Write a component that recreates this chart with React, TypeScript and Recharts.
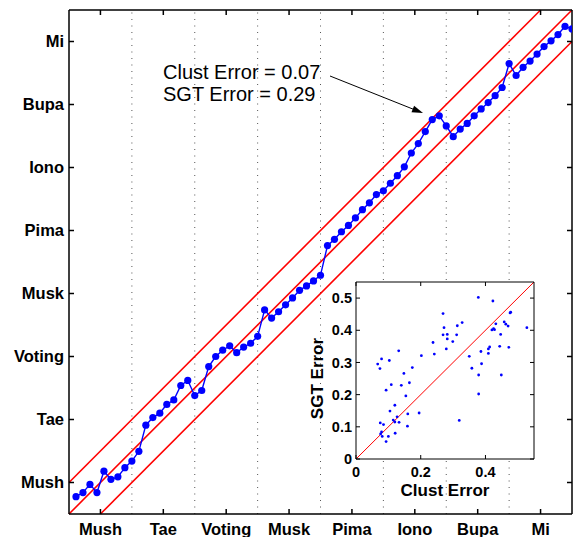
import React from 'react';
import {
  ComposedChart,
  Line,
  XAxis,
  YAxis,
  ReferenceLine,
  ScatterChart,
  Scatter,
  CartesianGrid,
  Label,
} from 'recharts';

const FONT = 'Liberation Sans, Arial, Helvetica, sans-serif';

// ---- main panel data ----
const datasetNames = ['Mush', 'Tae', 'Voting', 'Musk', 'Pima', 'Iono', 'Bupa', 'Mi'];
const pointsPerDataset = 9;
const bandTicks = [4.5, 13.5, 22.5, 31.5, 40.5, 49.5, 58.5, 67.5];
const levelTicks = [0.5, 1.5, 2.5, 3.5, 4.5, 5.5, 6.5, 7.5];
const bandBoundaries = [9, 18, 27, 36, 45, 54, 63];
const sortedScores = [
  0.275, 0.34, 0.47, 0.34, 0.68, 0.55, 0.59, 0.735, 0.84,
  0.995, 1.41, 1.53, 1.6, 1.74, 1.81, 2.04, 2.12, 1.88,
  1.96, 2.34, 2.5, 2.6, 2.67, 2.56, 2.65, 2.71, 2.82,
  3.24, 3.11, 3.21, 3.32, 3.43, 3.55, 3.62, 3.7, 3.79,
  4.26, 4.36, 4.48, 4.58, 4.7, 4.83, 4.94, 5.07, 5.13,
  5.25, 5.37, 5.51, 5.73, 5.88, 6.07, 6.26, 6.32, 6.16,
  5.99, 6.11, 6.2, 6.32, 6.43, 6.53, 6.64, 6.77, 7.15,
  6.96, 7.09, 7.19, 7.3, 7.42, 7.51, 7.61, 7.74, 7.7,
];
const upperBand = [{ x: 0, y: 0.5 }, { x: 67.5, y: 8 }];
const diagonal = [{ x: 0, y: 0 }, { x: 72, y: 8 }];
const lowerBand = [{ x: 4.5, y: 0 }, { x: 72, y: 7.5 }];

// ---- inset data ----
const clustError = [
  0.378, 0.423, 0.269, 0.478, 0.476, 0.432, 0.328, 0.313, 0.272, 0.269,
  0.282, 0.311, 0.282, 0.299, 0.238, 0.458, 0.463, 0.47, 0.528, 0.428,
  0.42, 0.425, 0.447, 0.413, 0.409, 0.409, 0.444, 0.472, 0.386, 0.388,
  0.35, 0.358, 0.379, 0.449, 0.379, 0.319, 0.279, 0.242, 0.202, 0.132,
  0.079, 0.067, 0.074, 0.103, 0.148, 0.174, 0.165, 0.14, 0.109, 0.093,
  0.154, 0.12, 0.105, 0.195, 0.16, 0.127, 0.115, 0.12, 0.133, 0.075,
  0.085, 0.159, 0.079, 0.076, 0.081, 0.1, 0.121, 0.093,
];
const sgtError = [
  0.502, 0.491, 0.452, 0.456, 0.454, 0.42, 0.424, 0.414, 0.408, 0.386,
  0.387, 0.386, 0.373, 0.365, 0.362, 0.426, 0.419, 0.413, 0.408, 0.402,
  0.401, 0.405, 0.387, 0.348, 0.342, 0.328, 0.35, 0.347, 0.334, 0.296,
  0.319, 0.282, 0.261, 0.261, 0.202, 0.12, 0.342, 0.326, 0.321, 0.336,
  0.311, 0.295, 0.281, 0.306, 0.266, 0.284, 0.237, 0.229, 0.231, 0.214,
  0.196, 0.167, 0.149, 0.143, 0.14, 0.131, 0.121, 0.115, 0.114, 0.112,
  0.107, 0.102, 0.084, 0.078, 0.07, 0.07, 0.08, 0.054,
];
const insetXTicks = [0, 0.2, 0.4];
const insetYTicks = [0, 0.1, 0.2, 0.3, 0.4, 0.5];
const insetDiagonal = [{ x: 0, y: 0 }, { x: 0.55, y: 0.55 }];

const mainData = sortedScores.map((score, i) => ({ idx: i + 1, score }));
const insetData = clustError.map((c, i) => ({ clust: c, sgt: sgtError[i] }));

const nameForTick = (v: number) => datasetNames[Math.floor(v / pointsPerDataset)] ?? '';
const nameForLevel = (v: number) => datasetNames[Math.floor(v)] ?? '';
const fmtInset = (v: number) => (v === 0 ? '0' : String(v));

const EmptyTick = () => <g />;
const NoShape = () => <g />;

const mainTickStyle = { fill: '#000', fontSize: 16.5, fontWeight: 'bold', fontFamily: FONT };
const insetTickStyle = { fill: '#000', fontSize: 14.5, fontWeight: 'bold', fontFamily: FONT };

const Dot = (props: any) => {
  const { cx, cy } = props;
  if (cx == null || cy == null) return <g />;
  return <circle cx={cx} cy={cy} r={1.4} fill="#0000ff" />;
};

const SgtLabel = (props: any) => {
  const vb = props.viewBox || {};
  const cx = vb.x + 1;
  const cy = vb.y + vb.height / 2 + 8;
  return (
    <text
      x={cx}
      y={cy}
      dy="0.36em"
      textAnchor="middle"
      transform={`rotate(-90, ${cx}, ${cy})`}
      fontSize={17}
      fontWeight="bold"
      fontFamily={FONT}
      fill="#000"
    >
      SGT Error
    </text>
  );
};

export default function App() {
  return (
    <div style={{ position: 'absolute', left: 0, top: 0, width: 573, height: 537, background: '#fff' }}>
      <div style={{ position: 'absolute', left: 0, top: 0 }}>
        <ComposedChart width={573} height={537} data={mainData} margin={{ top: 9, right: 0, bottom: 1, left: 9 }}>
          <XAxis
            xAxisId="b"
            dataKey="idx"
            type="number"
            domain={[0, 72]}
            allowDataOverflow
            ticks={bandTicks}
            interval={0}
            tickFormatter={nameForTick}
            orientation="bottom"
            height={22}
            tickSize={-5}
            tickMargin={14}
            stroke="#000"
            strokeWidth={1.5}
            tick={mainTickStyle}
          />
          <XAxis
            xAxisId="t"
            dataKey="idx"
            type="number"
            domain={[0, 72]}
            allowDataOverflow
            ticks={bandTicks}
            interval={0}
            orientation="top"
            height={1}
            tickSize={-5}
            stroke="#000"
            strokeWidth={1.5}
            tick={EmptyTick}
          />
          <YAxis
            yAxisId="l"
            type="number"
            domain={[0, 8]}
            allowDataOverflow
            ticks={levelTicks}
            interval={0}
            tickFormatter={nameForLevel}
            width={60}
            tickSize={-5}
            tickMargin={10}
            stroke="#000"
            strokeWidth={1.5}
            tick={mainTickStyle}
          />
          <YAxis
            yAxisId="r"
            orientation="right"
            type="number"
            domain={[0, 8]}
            allowDataOverflow
            ticks={levelTicks}
            interval={0}
            width={1}
            tickSize={-5}
            stroke="#000"
            strokeWidth={1.5}
            tick={EmptyTick}
          />
          {bandBoundaries.map((b) => (
            <ReferenceLine
              key={b}
              x={b}
              xAxisId="b"
              yAxisId="l"
              stroke="#555"
              strokeWidth={1}
              strokeDasharray="1 5.5"
            />
          ))}
          <ReferenceLine segment={upperBand} xAxisId="b" yAxisId="l" stroke="#ff0000" strokeWidth={1.6} ifOverflow="visible" />
          <ReferenceLine segment={diagonal} xAxisId="b" yAxisId="l" stroke="#ff0000" strokeWidth={1.6} ifOverflow="visible" />
          <ReferenceLine segment={lowerBand} xAxisId="b" yAxisId="l" stroke="#ff0000" strokeWidth={1.6} ifOverflow="visible" />
          <Line
            xAxisId="t"
            yAxisId="r"
            dataKey="score"
            type="linear"
            stroke="none"
            dot={false}
            activeDot={false}
            legendType="none"
            isAnimationActive={false}
          />
          <Line
            xAxisId="b"
            yAxisId="l"
            dataKey="score"
            type="linear"
            stroke="#0000ff"
            strokeWidth={1.4}
            dot={{ r: 3.6, fill: '#0000ff', stroke: '#0000ff', strokeWidth: 0 }}
            isAnimationActive={false}
          />
        </ComposedChart>
      </div>

      <div style={{ position: 'absolute', left: 300, top: 270 }}>
        <ScatterChart width={240} height={230} margin={{ top: 11, right: 5, bottom: 1, left: 16 }}>
          <CartesianGrid xAxisId="b" yAxisId="l" horizontal={false} vertical={false} fill="#fff" />
          <XAxis
            xAxisId="b"
            dataKey="clust"
            type="number"
            domain={[0, 0.55]}
            allowDataOverflow
            ticks={insetXTicks}
            interval={0}
            tickFormatter={fmtInset}
            height={40}
            tickSize={-4}
            tickMargin={12}
            stroke="#000"
            tick={insetTickStyle}
            label={{ value: 'Clust Error', position: 'insideBottom', offset: 3, fill: '#000', fontSize: 17, fontWeight: 'bold', fontFamily: FONT }}
          />
          <XAxis
            xAxisId="t"
            dataKey="clust"
            orientation="top"
            type="number"
            domain={[0, 0.55]}
            allowDataOverflow
            ticks={insetXTicks}
            interval={0}
            height={1}
            tickSize={-4}
            stroke="#000"
            tick={EmptyTick}
          />
          <YAxis
            yAxisId="l"
            dataKey="sgt"
            type="number"
            domain={[0, 0.55]}
            allowDataOverflow
            ticks={insetYTicks}
            interval={0}
            tickFormatter={fmtInset}
            width={40}
            tickSize={-4}
            tickMargin={8}
            stroke="#000"
            tick={insetTickStyle}
            label={<Label content={SgtLabel} />}
          />
          <YAxis
            yAxisId="r"
            dataKey="sgt"
            orientation="right"
            type="number"
            domain={[0, 0.55]}
            allowDataOverflow
            ticks={insetYTicks}
            interval={0}
            width={1}
            tickSize={-4}
            stroke="#000"
            tick={EmptyTick}
          />
          <ReferenceLine segment={insetDiagonal} xAxisId="b" yAxisId="l" stroke="#ff0000" strokeWidth={1} ifOverflow="visible" />
          <Scatter xAxisId="t" yAxisId="r" data={insetData} shape={NoShape} legendType="none" isAnimationActive={false} />
          <Scatter xAxisId="b" yAxisId="l" data={insetData} fill="#0000ff" shape={Dot} isAnimationActive={false} />
        </ScatterChart>
      </div>

      <svg
        width={573}
        height={537}
        style={{ position: 'absolute', left: 0, top: 0, pointerEvents: 'none' }}
      >
        <text x={163} y={79} fontSize={20} fontFamily={FONT} fill="#000">
          Clust Error = 0.07
        </text>
        <text x={163} y={101} fontSize={20} fontFamily={FONT} fill="#000">
          SGT Error = 0.29
        </text>
        <line x1={330} y1={76} x2={414} y2={109.5} stroke="#000" strokeWidth={1} />
        <polygon points="423,113 411.5,112.2 414.1,105.7" fill="#000" />
      </svg>
    </div>
  );
}
